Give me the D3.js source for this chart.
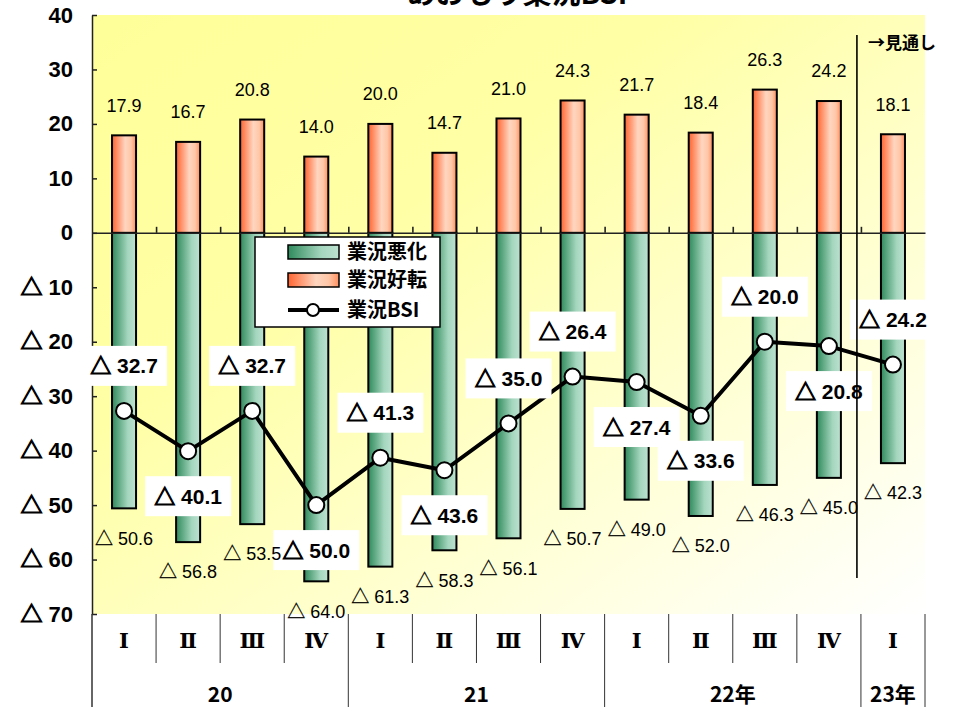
<!DOCTYPE html>
<html><head><meta charset="utf-8">
<script src="https://cdn.jsdelivr.net/npm/d3@7/dist/d3.min.js"></script>
<style>
html,body{margin:0;padding:0;background:#fff;}
svg{display:block;}
</style>
</head><body>
<svg id="chart" width="954" height="707"></svg>
<script>
// ---- data ----
const quarters = ['Ⅰ','Ⅱ','Ⅲ','Ⅳ','Ⅰ','Ⅱ','Ⅲ','Ⅳ','Ⅰ','Ⅱ','Ⅲ','Ⅳ','Ⅰ'];
const yearLabels = ['20','21','22年','23年'];
const yearCounts = [4,4,4,1];
const improve = [17.9,16.7,20.8,14.0,20.0,14.7,21.0,24.3,21.7,18.4,26.3,24.2,18.1];   // 業況好転
const worsen  = [50.6,56.8,53.5,64.0,61.3,58.3,56.1,50.7,49.0,52.0,46.3,45.0,42.3];   // 業況悪化
const bsi     = [-32.7,-40.1,-32.7,-50.0,-41.3,-43.6,-35.0,-26.4,-27.4,-33.6,-20.0,-20.8,-24.2]; // 業況BSI
const yTicks  = [40,30,20,10,0,-10,-20,-30,-40,-50,-60,-70];
const seriesNames = ['業況悪化','業況好転','業況BSI'];
const titleText = 'あおもり業況BSI';
const forecastText = '→見通し';
// label placement (layout only): 1 = above point, -1 = below
const bsiLabelSide = [1,-1,1,-1,1,-1,1,1,-1,-1,1,-1,1];

// ---- layout ----
const L = 92, R = 925, T = 15, B = 614;
const svg = d3.select('#chart');
const numFont = '"Liberation Sans", Arial, "DejaVu Sans", sans-serif';
const jpFont = '"Noto Sans CJK JP", "Noto Sans", sans-serif';

// writes a value; negatives as "△ n" with the triangle in a CJK font
function writeVal(sel, v, digits, thick) {
  sel.text(null);
  const s = digits == null ? String(Math.abs(v)) : Math.abs(v).toFixed(digits);
  if (v < 0) {
    const tri = sel.append('tspan').attr('font-family', jpFont).text('△');
    if (thick) tri.attr('stroke', '#000').attr('stroke-width', thick);
    sel.append('tspan').text('\u00A0' + s);
  } else {
    sel.text(s);
  }
}

const x = d3.scaleBand().domain(d3.range(quarters.length)).range([L, R]);
const xi = d3.scaleLinear().domain([0, quarters.length]).range([L, R]);
const y = d3.scaleLinear().domain([-70, 40]).range([B, T]);
const bw = x.bandwidth() * 0.375;
const cx = i => x(i) + x.bandwidth() / 2;

// ---- defs ----
const defs = svg.append('defs');
const bg = defs.append('linearGradient').attr('id','bg').attr('x1','0').attr('y1','0').attr('x2','1').attr('y2','1');
bg.append('stop').attr('offset','0').attr('stop-color','#FFFF99');
bg.append('stop').attr('offset','0.35').attr('stop-color','#FFFFA6');
bg.append('stop').attr('offset','1').attr('stop-color','#FFFFFF');
const gG = defs.append('linearGradient').attr('id','gGreen');
[['0','#2F8A5C'],['0.65','#A4D6BE'],['1','#BDE2D0']].forEach(s=>gG.append('stop').attr('offset',s[0]).attr('stop-color',s[1]));
const gO = defs.append('linearGradient').attr('id','gOrange');
[['0','#FF6430'],['0.55','#FFD6C0'],['0.8','#FFC6A6'],['1','#FF8F5E']].forEach(s=>gO.append('stop').attr('offset',s[0]).attr('stop-color',s[1]));

// ---- title (cut off at top, as in the reference) ----
svg.append('text').attr('x', 517).attr('y', 4).attr('text-anchor','middle')
  .attr('font-family', jpFont).attr('font-weight','bold').attr('font-size', 29).attr('fill','#000')
  .text(titleText);

// ---- plot background ----
svg.append('rect').attr('x', L).attr('y', T).attr('width', R - L).attr('height', B - T).attr('fill','url(#bg)');

// ---- bars ----
const gb = svg.append('g');
gb.selectAll('rect.neg').data(worsen).join('rect').attr('class','neg')
  .attr('x', (d,i) => cx(i) - bw/2).attr('width', bw)
  .attr('y', y(0)).attr('height', d => y(-d) - y(0))
  .attr('fill','url(#gGreen)').attr('stroke','#000').attr('stroke-width',2);
gb.selectAll('rect.pos').data(improve).join('rect').attr('class','pos')
  .attr('x', (d,i) => cx(i) - bw/2).attr('width', bw)
  .attr('y', d => y(d)).attr('height', d => y(0) - y(d))
  .attr('fill','url(#gOrange)').attr('stroke','#000').attr('stroke-width',2);

// ---- zero axis with upward ticks ----
const zAxis = svg.append('g').attr('transform', `translate(0,${y(0)})`)
  .call(d3.axisBottom(xi).tickValues(d3.range(1, quarters.length)).tickSizeInner(-6).tickSizeOuter(0).tickFormat(''));
zAxis.selectAll('path,line').attr('stroke','#222').attr('stroke-width',1.6);

// ---- y axis ----
const yAxis = svg.append('g').attr('transform', `translate(${L},0)`)
  .call(d3.axisLeft(y).tickValues(yTicks).tickSizeInner(-5).tickSizeOuter(0).tickPadding(19));
yAxis.selectAll('path,line').attr('stroke','#222').attr('stroke-width',1.5);
yAxis.selectAll('text').attr('font-family', numFont).attr('font-weight','bold').attr('font-size',22).attr('fill','#000')
  .each(function(v){ writeVal(d3.select(this), v, null, 1.1); });

// ---- BSI line ----
const line = d3.line().x((d,i) => cx(i)).y(d => y(d));
svg.append('path').datum(bsi).attr('d', line).attr('fill','none').attr('stroke','#000').attr('stroke-width',4).attr('stroke-linejoin','round');
svg.append('g').selectAll('circle').data(bsi).join('circle')
  .attr('cx', (d,i) => cx(i)).attr('cy', d => y(d)).attr('r', 8)
  .attr('fill','#fff').attr('stroke','#000').attr('stroke-width',2);

// ---- BSI labels with white boxes ----
const gbl = svg.append('g');
bsi.forEach((d,i) => {
  const ly = y(d) - bsiLabelSide[i] * 45;
  const g = gbl.append('g').attr('transform', `translate(${cx(i)},${ly})`);
  g.append('rect').attr('x', -43).attr('y', -20).attr('width', 86).attr('height', 40).attr('fill','#fff');
  const t = g.append('text').attr('text-anchor','middle').attr('dy','0.36em')
    .attr('font-family', numFont).attr('font-weight','bold').attr('font-size',21).attr('fill','#000');
  writeVal(t, d, 1, 1.1);
});

// ---- bar value labels ----
const gl = svg.append('g').attr('font-family', numFont).attr('font-size',18).attr('fill','#000').attr('text-anchor','middle');
gl.selectAll('text.p').data(improve).join('text').attr('class','p')
  .attr('x', (d,i) => cx(i)).attr('y', d => y(d) - 30).attr('dy','0.35em').text(d => d.toFixed(1));
gl.selectAll('text.n').data(worsen).join('text').attr('class','n')
  .attr('x', (d,i) => cx(i)).attr('y', d => y(-d) + 30).attr('dy','0.35em')
  .each(function(d){ writeVal(d3.select(this), -d, 1, 0.3); });

// ---- forecast separator ----
svg.append('line').attr('x1', xi(12) - 4).attr('x2', xi(12) - 4).attr('y1', 35).attr('y2', 578)
  .attr('stroke','#000').attr('stroke-width',1.6);
svg.append('text').attr('x', 868).attr('y', 43).attr('dy','0.36em')
  .attr('font-family', jpFont).attr('font-weight','bold').attr('font-size',17).attr('fill','#000')
  .text(forecastText);

// ---- legend ----
const lg = svg.append('g').attr('transform','translate(255,237)');
lg.append('rect').attr('width',185).attr('height',90).attr('fill','#fff').attr('stroke','#000').attr('stroke-width',1.5);
lg.append('rect').attr('x',33).attr('y',8).attr('width',51).attr('height',14).attr('fill','url(#gGreen)').attr('stroke','#000').attr('stroke-width',1.5);
lg.append('rect').attr('x',33).attr('y',36).attr('width',51).attr('height',14).attr('fill','url(#gOrange)').attr('stroke','#000').attr('stroke-width',1.5);
lg.append('line').attr('x1',33).attr('x2',84).attr('y1',73).attr('y2',73).attr('stroke','#000').attr('stroke-width',4);
lg.append('circle').attr('cx',58).attr('cy',73).attr('r',6).attr('fill','#fff').attr('stroke','#000').attr('stroke-width',2);
lg.selectAll('text').data(seriesNames).join('text')
  .attr('x', 92).attr('y', (d,i) => [15,43,73][i]).attr('dy','0.36em')
  .attr('font-family', jpFont).attr('font-weight','bold').attr('font-size',20).attr('fill','#000')
  .text(d => d);

// ---- category axis below plot ----
const gx = svg.append('g');
const yearBounds = [0];
yearCounts.forEach(c => yearBounds.push(yearBounds[yearBounds.length-1] + c));
d3.range(0, quarters.length + 1).forEach(k => {
  const isYear = yearBounds.includes(k);
  gx.append('line').attr('x1', xi(k)).attr('x2', xi(k)).attr('y1', B).attr('y2', isYear ? 707 : 663)
    .attr('stroke', '#333').attr('stroke-width', k === 0 ? 1.5 : 1);
});
gx.selectAll('text.q').data(quarters).join('text').attr('class','q')
  .attr('x', (d,i) => cx(i)).attr('y', 640).attr('dy','0.36em').attr('text-anchor','middle')
  .attr('font-family','"DejaVu Serif", "Liberation Serif", serif').attr('font-weight','bold').attr('font-size',21).attr('fill','#000')
  .text(d => d);
gx.selectAll('text.yr').data(yearLabels).join('text').attr('class','yr')
  .attr('x', (d,i) => (xi(yearBounds[i]) + xi(yearBounds[i+1])) / 2).attr('y', 694).attr('dy','0.36em').attr('text-anchor','middle')
  .attr('font-family', jpFont).attr('font-weight','bold').attr('font-size',21).attr('fill','#000')
  .text(d => d);
</script>
</body></html>
